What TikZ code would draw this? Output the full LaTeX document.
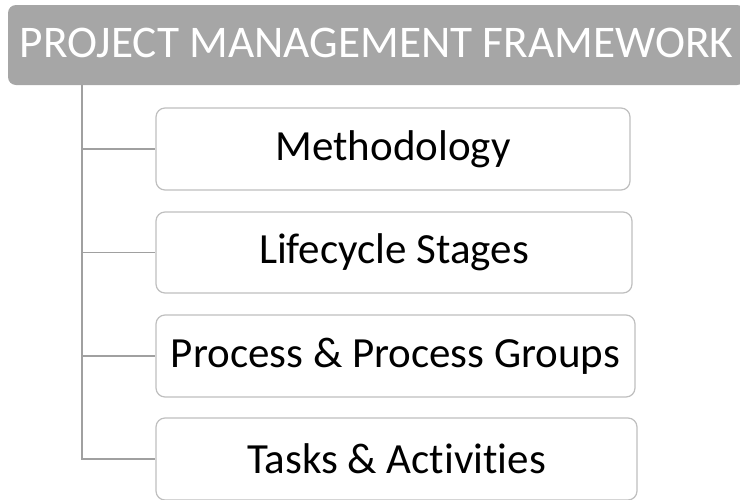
\documentclass[tikz,border=0pt]{standalone}
\usepackage{fontspec}
\setmainfont{Carlito}[Ligatures=NoCommon]
\begin{document}
\begin{tikzpicture}[x=1pt,y=-1pt,
  header/.style={draw=none,fill=hdrgray,rounded corners=8pt,inner sep=0pt,
    minimum width=737pt,minimum height=80pt,text=white,font=\fontsize{45.3}{52}\selectfont},
  itembox/.style={draw=boxgray,line width=1.2pt,fill=white,rounded corners=9pt,inner sep=0pt,
    minimum height=82pt,font=\fontsize{43}{50}\selectfont,text=black},
  link/.style={draw=linegray,line width=1.2pt}]
\definecolor{hdrgray}{HTML}{A6A6A6}
\definecolor{boxgray}{HTML}{BFBFBF}
\definecolor{linegray}{HTML}{A0A0A0}
\useasboundingbox (0,0) rectangle (740,499);
\clip (0,0) rectangle (740,499);
\node[header] (hdr) at (376.5,45) {};
\node[text=white,font=\fontsize{45.3}{52}\selectfont,inner sep=0pt] (htext) at (376.5,43) {PROJECT MANAGEMENT FRAMEWORK};
\node[itembox,minimum width=474pt] (m) at (393,149) {Methodology};
\node[itembox,minimum width=476pt,minimum height=81pt] (l) at (394,252.5) {Lifecycle Stages};
\node[itembox,minimum width=479pt] (p) at (395.5,356) {Process \& Process Groups};
\node[itembox,minimum width=481pt] (t) at (396.5,459) {Tasks \& Activities};
\coordinate (top) at (82,85);
\draw[link] (top) |- (t.west);
\draw[link] (82,149) -- (m.west);
\draw[link] (82,252.5) -- (l.west);
\draw[link] (82,356) -- (p.west);
\end{tikzpicture}
\end{document}
